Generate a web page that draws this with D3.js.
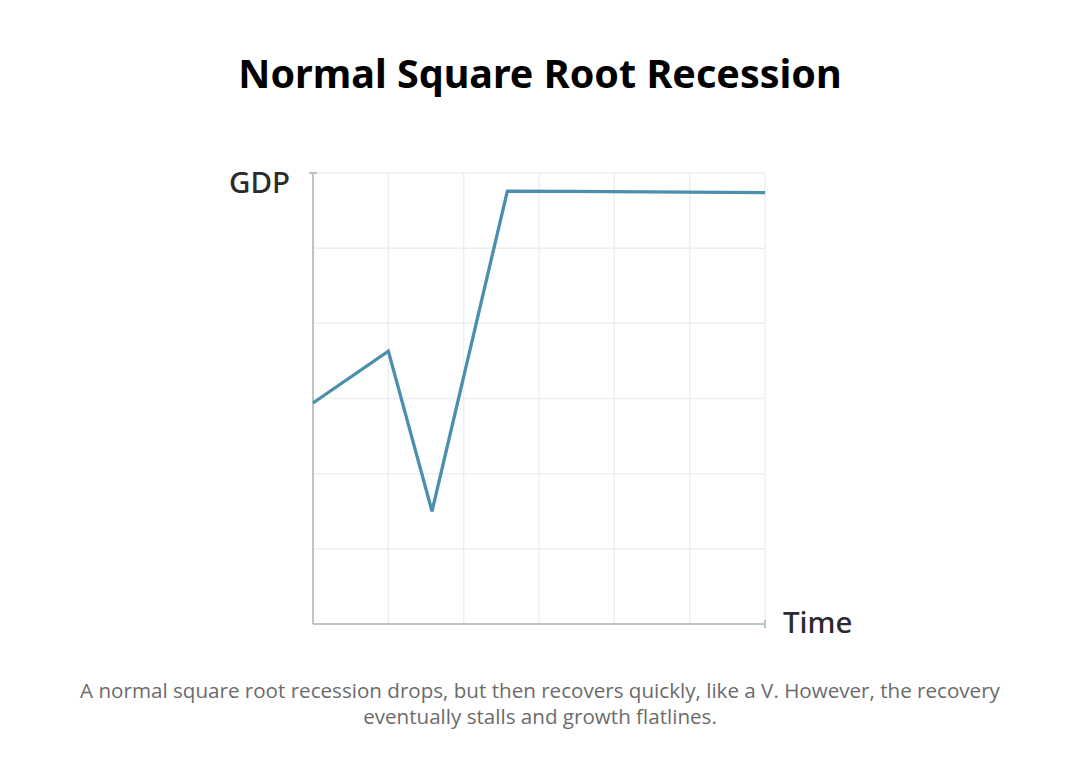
<!DOCTYPE html>
<html><head><meta charset="utf-8">
<script src="https://cdn.jsdelivr.net/npm/d3@7"></script>
<style>body{margin:0;background:#fff;} svg{display:block;}</style>
</head><body>
<div id="chart"></div>
<script>
const titleText = "Normal Square Root Recession";
const yLabel = "GDP";
const xLabel = "Time";
const captionLines = ["A normal square root recession drops, but then recovers quickly, like a V. However, the recovery", "eventually stalls and growth flatlines."];
const timeValues = [0, 1, 1.58, 2.58, 3.4, 6];
const gdpValues = [2.94, 3.63, 1.50, 5.76, 5.755, 5.74];
const gridTicks = [0, 1, 2, 3, 4, 5, 6];

const W = 1080, H = 780;
const svg = d3.select("#chart").append("svg").attr("width", W).attr("height", H);
const m = {left: 313, right: 765, top: 173, bottom: 624};
const x = d3.scaleLinear().domain([0, 6]).range([m.left, m.right]);
const y = d3.scaleLinear().domain([0, 6]).range([m.bottom, m.top]);

svg.append("text").attr("x", 540).attr("y", 88).attr("text-anchor", "middle")
  .attr("font-family", "Noto Sans").attr("font-weight", 700).attr("font-size", 39.5)
  .attr("fill", "#000").text(titleText);

const g = svg.append("g");
g.selectAll("line.vg").data(gridTicks.slice(1)).join("line").attr("class","vg")
  .attr("x1", d => x(d)).attr("x2", d => x(d)).attr("y1", y(0)).attr("y2", y(6))
  .attr("stroke", "#eceff0").attr("stroke-width", 1.5);
g.selectAll("line.hg").data(gridTicks.slice(1)).join("line").attr("class","hg")
  .attr("x1", x(0)).attr("x2", x(6)).attr("y1", d => y(d)).attr("y2", d => y(d))
  .attr("stroke", "#eceff0").attr("stroke-width", 1.5);

const axisColor = "#b9c6c4";
const xAxis = g.append("g").attr("transform", `translate(0,${y(0)})`)
  .call(d3.axisBottom(x).tickValues([]).tickSizeOuter(5));
xAxis.select(".domain").attr("stroke", axisColor).attr("stroke-width", 2)
  .attr("d", `M${x(0)},0H${x(6)}M${x(6)},-4V4`);
const yAxis = g.append("g").attr("transform", `translate(${x(0)},0)`)
  .call(d3.axisLeft(y).tickValues([]).tickSizeOuter(5));
yAxis.select(".domain").attr("stroke", axisColor).attr("stroke-width", 2)
  .attr("d", `M0,${y(0)}V${y(6)}M-4,${y(6)}H4`);

const pts = timeValues.map((t, i) => [t, gdpValues[i]]);
g.append("path").datum(pts)
  .attr("d", d3.line().x(d => x(d[0])).y(d => y(d[1])))
  .attr("fill", "none").attr("stroke", "#4a8fab").attr("stroke-width", 3.3)
  .attr("stroke-linejoin", "miter");

svg.append("text").attr("x", 290).attr("y", 193).attr("text-anchor", "end")
  .attr("font-family", "Noto Sans").attr("font-weight", 500).attr("font-size", 29.5)
  .attr("fill", "#2b2b2b").text(yLabel);
svg.append("text").attr("x", 783).attr("y", 633)
  .attr("font-family", "Noto Sans").attr("font-weight", 500).attr("font-size", 29.5)
  .attr("fill", "#2b2b2b").text(xLabel);

svg.selectAll("text.cap").data(captionLines).join("text").attr("class","cap")
  .attr("x", 540).attr("y", (d, i) => 698 + i * 26).attr("text-anchor", "middle")
  .attr("font-family", "Open Sans").attr("font-size", 20.6).attr("fill", "#6b6b6b")
  .text(d => d);
</script>
</body></html>
